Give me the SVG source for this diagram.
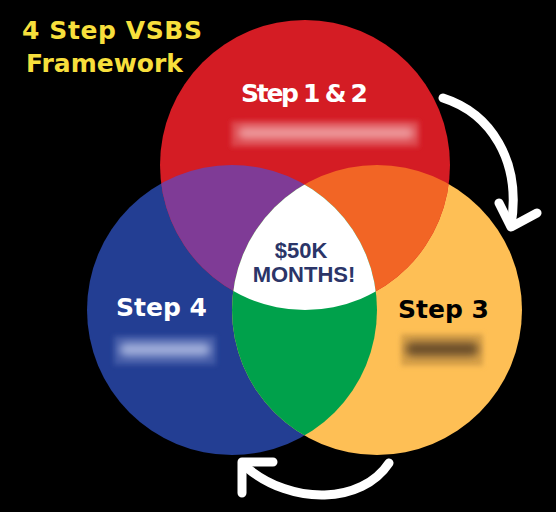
<svg xmlns="http://www.w3.org/2000/svg" width="556" height="512" viewBox="0 0 556 512">
<defs>
<style>
.title{font-family:"DejaVu Sans",sans-serif;font-weight:bold;font-size:25px;fill:#F7DF3C}
.step{font-family:"DejaVu Sans",sans-serif;font-weight:bold;font-size:25px}
.center{font-family:"Liberation Sans",Arial,sans-serif;font-weight:bold;font-size:22px;fill:#2B3568;text-anchor:middle}
.arrow{fill:none;stroke:#FFFFFF;stroke-width:9;stroke-linecap:round;stroke-linejoin:round}
</style>
<clipPath id="cRed"><circle cx="305" cy="165" r="145"/></clipPath>
<clipPath id="cBlue"><circle cx="232" cy="310" r="145"/></clipPath>
<clipPath id="cYellow"><circle cx="377" cy="310" r="145"/></clipPath>
<filter id="blur" x="-20%" y="-50%" width="140%" height="200%"><feGaussianBlur stdDeviation="2.5"/></filter>
<filter id="blur2" x="-20%" y="-80%" width="140%" height="260%"><feGaussianBlur stdDeviation="4"/></filter>
</defs>
<rect width="556" height="512" fill="#000000"/>
<g id="title">
<text class="title" x="22" y="39" textLength="180" lengthAdjust="spacing">4 Step VSBS</text>
<text class="title" x="26" y="72">Framework</text>
</g>
<g id="step4">
<circle cx="232" cy="310" r="145" fill="#233E93"/>
</g>
<g id="step3">
<circle cx="377" cy="310" r="145" fill="#FEBF55"/>
</g>
<g id="step12">
<circle cx="305" cy="165" r="145" fill="#D41C24"/>
</g>
<g id="overlaps">
<circle cx="305" cy="165" r="145" fill="#7F3B96" clip-path="url(#cBlue)"/>
<circle cx="305" cy="165" r="145" fill="#F26525" clip-path="url(#cYellow)"/>
<circle cx="232" cy="310" r="145" fill="#00A14B" clip-path="url(#cYellow)"/>
<g clip-path="url(#cYellow)"><circle cx="305" cy="165" r="145" fill="#FFFFFF" clip-path="url(#cBlue)"/></g>
</g>
<g id="label12">
<text class="step" x="241" y="102" fill="#FFFFFF" textLength="127" lengthAdjust="spacing">Step 1 &amp; 2</text>
<rect x="231" y="121" width="188" height="26" fill="#DC4349" filter="url(#blur)"/>
<rect x="238" y="127" width="176" height="12" rx="5" fill="#EE9C9F" filter="url(#blur2)"/>
</g>
<g id="label4">
<text class="step" x="116" y="316" fill="#FFFFFF">Step 4</text>
<rect x="114" y="336" width="102" height="29" fill="#4058A6" filter="url(#blur)"/>
<rect x="120" y="343" width="90" height="13" rx="5" fill="#A3B0DC" filter="url(#blur2)"/>
</g>
<g id="label3">
<text class="step" x="398" y="318" fill="#000000">Step 3</text>
<rect x="401" y="334" width="82" height="32" fill="#D9A24A" filter="url(#blur)"/>
<rect x="406" y="342" width="72" height="14" rx="5" fill="#6A4E2C" filter="url(#blur2)"/>
</g>
<g id="centerLabel">
<text class="center" x="301" y="258">$50K</text>
<text class="center" x="304" y="282">MONTHS!</text>
</g>
<g id="connectors">
<path class="arrow" d="M443,98 C490,113 522,160 511,226"/>
<path class="arrow" d="M499,203 L511,227 L537,213"/>
<path class="arrow" d="M389,463 C362,504 292,506 246,467"/>
<path class="arrow" d="M273,462 L242,462 L242,493"/>
</g>
</svg>
